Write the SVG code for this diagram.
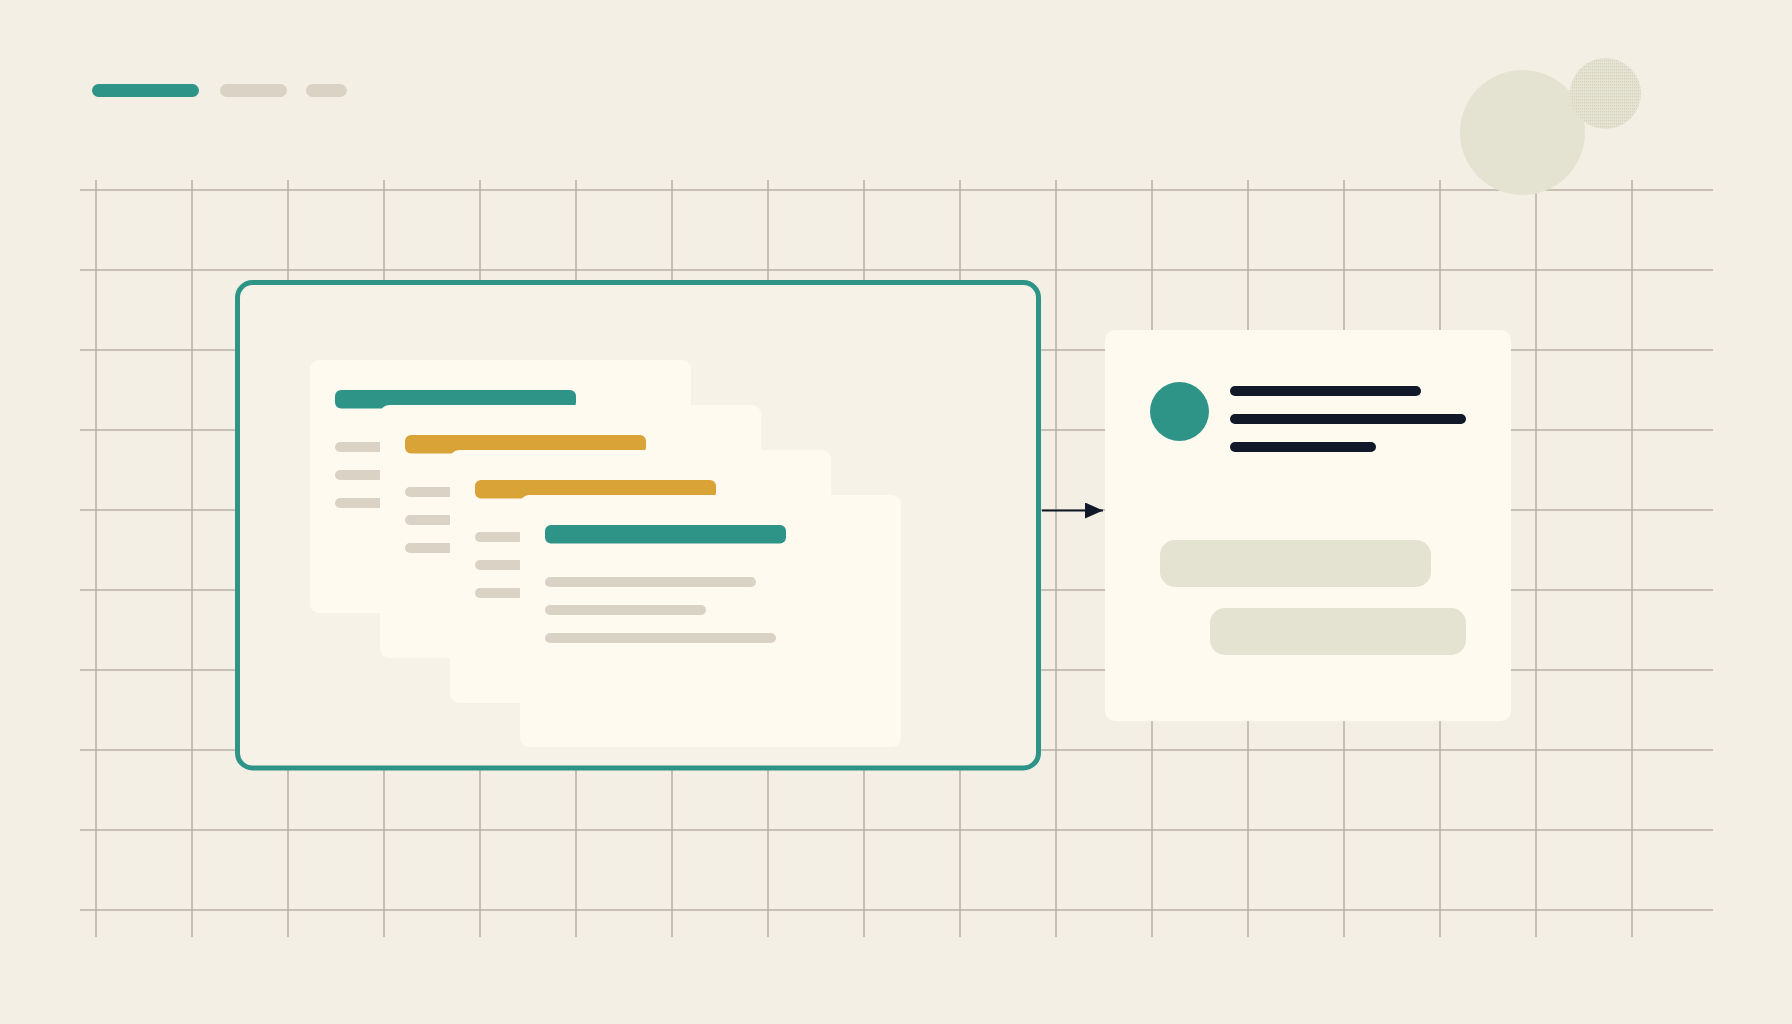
<svg xmlns="http://www.w3.org/2000/svg" width="1792" height="1024" viewBox="0 0 1792 1024">
<style>
.grid line{stroke:#B9AFA3;stroke-width:1.5}
.card{fill:#FEFAF0}
.teal{fill:#2F9488}
.gold{fill:#D9A337}
.gray{fill:#DAD2C4}
.ink{fill:#111827}
.pill{fill:#E4E3D1}
</style>
<defs>
<pattern id="dots" width="2" height="3" patternUnits="userSpaceOnUse">
<rect width="2" height="3" fill="#E5E3D2"/>
<rect width="1" height="1.5" fill="#D5D3C0"/>
</pattern>
<marker id="arrow" markerWidth="18" markerHeight="16" refX="18" refY="8" orient="auto" markerUnits="userSpaceOnUse">
<path d="M0,0 L18,8 L0,16 Z" fill="#111827"/>
</marker>
</defs>
<rect width="1792" height="1024" fill="#F3EFE4"/>
<g id="progress">
<rect x="92" y="84" width="107" height="13" rx="6.5" class="teal"/>
<rect x="220" y="84" width="67" height="13" rx="6.5" class="gray"/>
<rect x="306" y="84" width="41" height="13" rx="6.5" class="gray"/>
</g>
<g class="grid" id="grid">
<line x1="80" y1="190" x2="1713" y2="190"/>
<line x1="80" y1="270" x2="1713" y2="270"/>
<line x1="80" y1="350" x2="1713" y2="350"/>
<line x1="80" y1="430" x2="1713" y2="430"/>
<line x1="80" y1="510" x2="1713" y2="510"/>
<line x1="80" y1="590" x2="1713" y2="590"/>
<line x1="80" y1="670" x2="1713" y2="670"/>
<line x1="80" y1="750" x2="1713" y2="750"/>
<line x1="80" y1="830" x2="1713" y2="830"/>
<line x1="80" y1="910" x2="1713" y2="910"/>
<line x1="96" y1="180" x2="96" y2="937"/>
<line x1="192" y1="180" x2="192" y2="937"/>
<line x1="288" y1="180" x2="288" y2="937"/>
<line x1="384" y1="180" x2="384" y2="937"/>
<line x1="480" y1="180" x2="480" y2="937"/>
<line x1="576" y1="180" x2="576" y2="937"/>
<line x1="672" y1="180" x2="672" y2="937"/>
<line x1="768" y1="180" x2="768" y2="937"/>
<line x1="864" y1="180" x2="864" y2="937"/>
<line x1="960" y1="180" x2="960" y2="937"/>
<line x1="1056" y1="180" x2="1056" y2="937"/>
<line x1="1152" y1="180" x2="1152" y2="937"/>
<line x1="1248" y1="180" x2="1248" y2="937"/>
<line x1="1344" y1="180" x2="1344" y2="937"/>
<line x1="1440" y1="180" x2="1440" y2="937"/>
<line x1="1536" y1="180" x2="1536" y2="937"/>
<line x1="1632" y1="180" x2="1632" y2="937"/>
</g>
<g id="decor">
<circle cx="1522.5" cy="132.5" r="62.5" fill="#E4E3D1"/>
<circle cx="1605.5" cy="93.5" r="35.5" fill="url(#dots)"/>
</g>
<g id="stack-frame">
<rect x="237.5" y="282.5" width="801" height="485.5" rx="15" fill="#F6F2E8" stroke="#2F9488" stroke-width="5"/>
</g>
<g id="card-1">
<rect x="310" y="360" width="381" height="253" rx="9" class="card"/>
<rect x="335" y="390" width="241" height="18.5" rx="6" class="teal"/>
<rect x="335" y="442" width="200" height="10" rx="5" class="gray"/>
<rect x="335" y="470" width="200" height="10" rx="5" class="gray"/>
<rect x="335" y="498" width="200" height="10" rx="5" class="gray"/>
</g>
<g id="card-2">
<rect x="380" y="405" width="381" height="253" rx="9" class="card"/>
<rect x="405" y="435" width="241" height="18.5" rx="6" class="gold"/>
<rect x="405" y="487" width="200" height="10" rx="5" class="gray"/>
<rect x="405" y="515" width="200" height="10" rx="5" class="gray"/>
<rect x="405" y="543" width="200" height="10" rx="5" class="gray"/>
</g>
<g id="card-3">
<rect x="450" y="450" width="381" height="253" rx="9" class="card"/>
<rect x="475" y="480" width="241" height="18.5" rx="6" class="gold"/>
<rect x="475" y="532" width="200" height="10" rx="5" class="gray"/>
<rect x="475" y="560" width="200" height="10" rx="5" class="gray"/>
<rect x="475" y="588" width="200" height="10" rx="5" class="gray"/>
</g>
<g id="card-4">
<rect x="520" y="495" width="381" height="252" rx="9" class="card"/>
<rect x="545" y="525" width="241" height="18.5" rx="6" class="teal"/>
<rect x="545" y="577" width="211" height="10" rx="5" class="gray"/>
<rect x="545" y="605" width="161" height="10" rx="5" class="gray"/>
<rect x="545" y="633" width="231" height="10" rx="5" class="gray"/>
</g>
<g id="result-panel">
<rect x="1105" y="330" width="406" height="391" rx="10" class="card"/>
<circle cx="1179.5" cy="411.5" r="29.5" class="teal"/>
<rect x="1230" y="386" width="191" height="10" rx="5" class="ink"/>
<rect x="1230" y="414" width="236" height="10" rx="5" class="ink"/>
<rect x="1230" y="442" width="146" height="10" rx="5" class="ink"/>
<rect x="1160" y="540" width="271" height="47" rx="15" class="pill"/>
<rect x="1210" y="608" width="256" height="47" rx="15" class="pill"/>
</g>
<g id="connectors">
<line x1="1042" y1="510.5" x2="1103" y2="510.5" stroke="#111827" stroke-width="2" marker-end="url(#arrow)"/>
</g>
</svg>
